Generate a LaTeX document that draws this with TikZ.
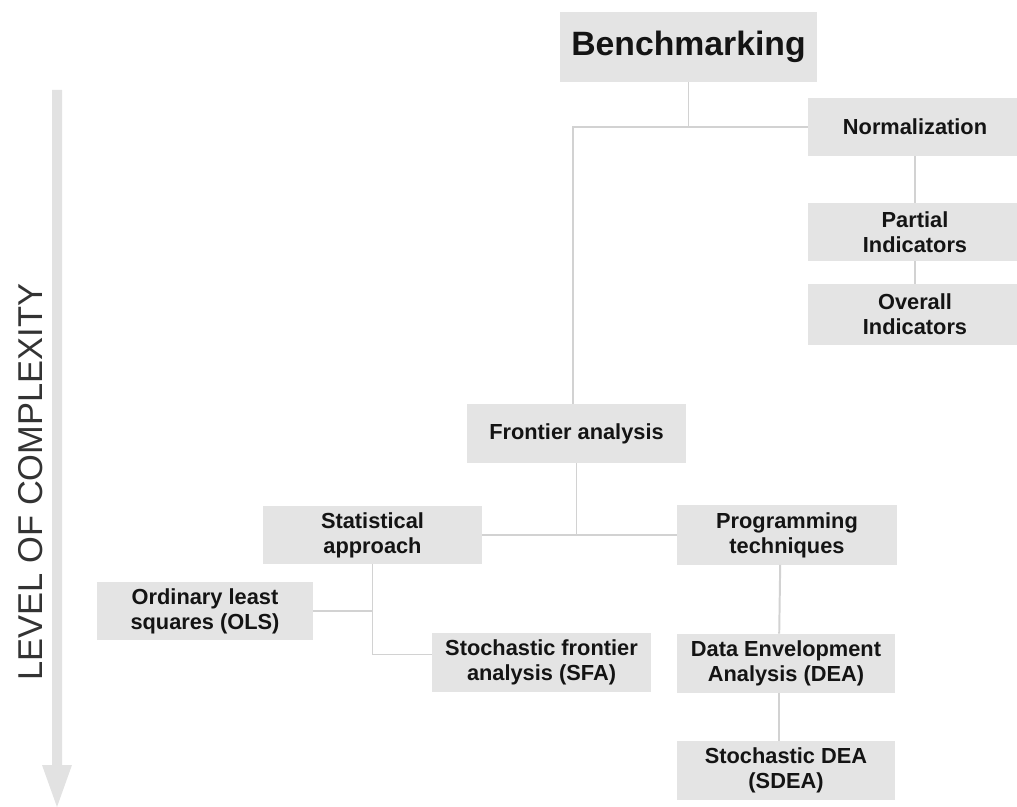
\documentclass[tikz,border=0pt]{standalone}
\usepackage{fontspec}
\setmainfont{Liberation Sans}
\usetikzlibrary{positioning}

\definecolor{boxgray}{HTML}{E4E4E4}
\definecolor{linegray}{HTML}{D2D2D2}
\definecolor{arrowgray}{HTML}{E2E2E2}
\definecolor{textdark}{HTML}{141414}

\begin{document}
\begin{tikzpicture}[x=0.025cm, y=-0.025cm,
  box/.style={fill=boxgray, text=textdark, align=center, inner sep=0pt,
    minimum width=5.45cm, minimum height=1.46cm,
    font=\fontsize{15.5}{17.8}\selectfont\bfseries},
  link/.style={draw=linegray, line width=1.4pt}]

\useasboundingbox (0, 0) rectangle (1017, 807);
\clip (0, 0) rectangle (1017, 807);

% complexity axis
\fill[arrowgray] (52, 90) -- (62, 90) -- (62, 765) -- (72, 765) -- (57, 807)
  -- (42, 765) -- (52, 765) -- cycle;
\node[rotate=90, text=black!80, font=\fontsize{24.5}{28}\selectfont] (axis) at (31, 482) {LEVEL OF COMPLEXITY};

% boxes
\node[box, minimum width=6.425cm, minimum height=1.75cm,
  font=\fontsize{24}{28}\selectfont\bfseries] (bench) at (688.5, 47) {Benchmarking};
\node[box, minimum width=5.35cm] (norm) at (915, 127) {Normalization};
\node[box, minimum width=5.35cm] (partial) at (915, 232) {Partial\\Indicators};
\node[box, minimum width=5.35cm, minimum height=1.52cm] (overall) at (915, 314.5) {Overall\\Indicators};

\node[box, minimum height=1.48cm] (frontier) at (576.5, 433.5) {Frontier analysis};
\node[box, minimum width=5.48cm] (stat) at (372.5, 535) {Statistical\\approach};
\node[box, minimum width=5.5cm, minimum height=1.48cm] (prog) at (787, 535) {Programming\\techniques};

\node[box, minimum width=5.4cm, minimum height=1.43cm] (ols) at (205, 611) {Ordinary least\\squares (OLS)};
\node[box, minimum height=1.48cm] (sfa) at (541.5, 662.5) {Stochastic frontier\\analysis (SFA)};
\node[box, minimum height=1.48cm] (dea) at (786, 663.5) {Data Envelopment\\Analysis (DEA)};
\node[box, minimum height=1.48cm] (sdea) at (786, 770.5) {Stochastic DEA\\(SDEA)};

% links
\draw[link] (bench.south) -- (bench.south |- norm.west);
\draw[link] ([xshift=-0.09cm]frontier.north) |- (norm.west);
\draw[link] (norm) -- (partial);
\draw[link] (partial) -- (overall);

\draw[link] (frontier.south) -- (frontier.south |- stat.east);
\draw[link] (stat.east) -- (prog.west);
\draw[link] (stat.south) |- (ols.east);
\draw[link] (stat.south) |- ([yshift=0.2cm]sfa.west);

\draw[link] ([xshift=-0.17cm]prog.south) -- ([xshift=-0.17cm]dea.north);
\draw[link] ([xshift=-0.17cm]dea.south) -- ([xshift=-0.17cm]sdea.north);

\end{tikzpicture}
\end{document}
